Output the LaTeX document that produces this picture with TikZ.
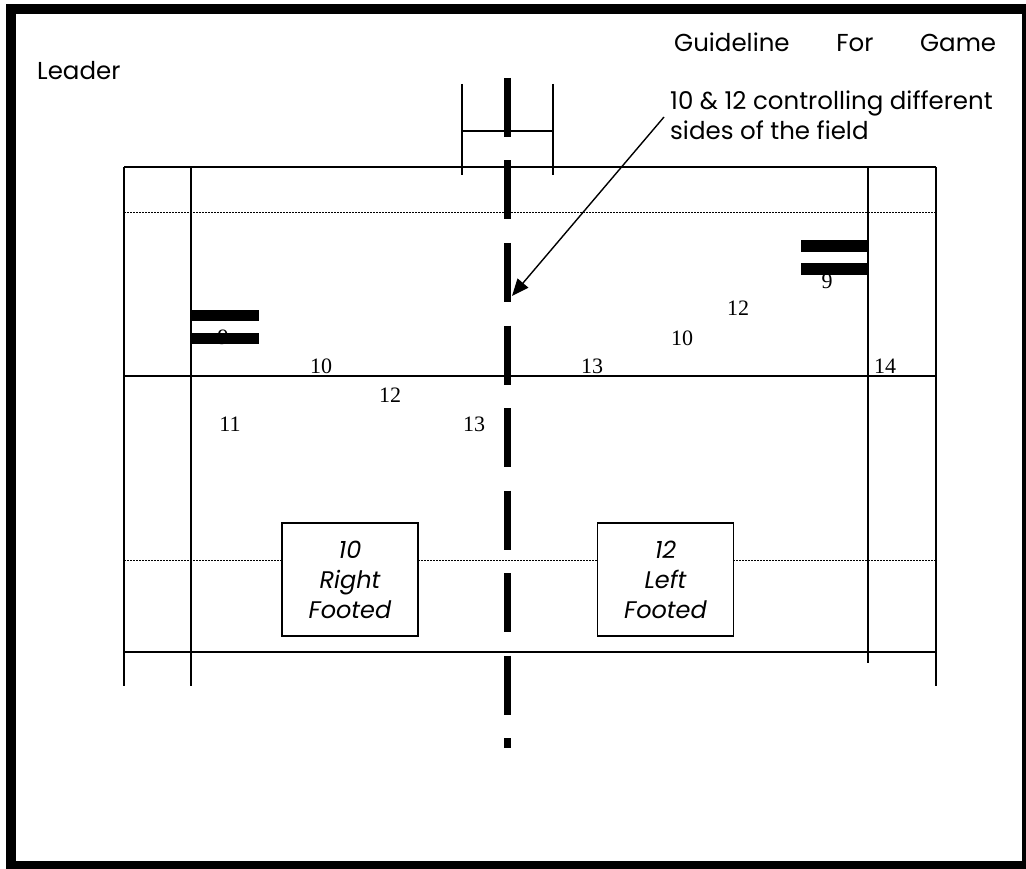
\documentclass[tikz,border=0pt]{standalone}
\usepackage{fontspec}
\setmainfont{Liberation Serif}
\newfontfamily\gothic{Poppins}
\usetikzlibrary{arrows.meta}
\begin{document}
\begin{tikzpicture}[x=1pt,y=-1pt,
  field/.style={line width=1.6pt},
  dotline/.style={line width=1pt, dash pattern=on 1.5pt off 1.5pt},
  num/.style={font=\fontsize{22}{22}\selectfont, inner sep=0pt, anchor=base},
  lbl/.style={font=\gothic\fontsize{24.5}{30}\selectfont, inner sep=0pt, anchor=base west},
  footbox/.style={draw, fill=white, line width=1.5pt, minimum width=136pt, minimum height=113pt,
    align=center, font=\gothic\itshape\fontsize{24}{30}\selectfont, inner sep=0pt},
  goalbar/.style={fill=black},
  centreline/.style={line width=7pt, dash pattern=on 59pt off 23.5pt},
  pointer/.style={line width=1.4pt, -{Triangle[length=17pt,width=14pt]}},
]
\useasboundingbox (0,0) rectangle (1026,869);
% outer frame
\draw[line width=10pt] (11,9) rectangle (1027,866);

% header texts
\node[lbl] (title) at (674,52) {\hbox to 322pt{Guideline\hfill For\hfill Game}};
\node[lbl] (leader) at (37,80) {Leader};
\node[lbl, align=left] (note) at (670,140) {10 \& 12 controlling different\\sides of the field};

% field lines
\draw[field] (124,167) -- (936,167);
\draw[field] (124,376) -- (936,376);
\draw[field] (124,652) -- (936,652);
\draw[field] (124,167) -- (124,686);
\draw[field] (191,167) -- (191,686);
\draw[field] (868,167) -- (868,663);
\draw[field] (936,167) -- (936,686);
\draw[dotline] (124,213) -- (936,213);
\draw[dotline] (124,560) -- (936,560);

% small goal at top
\draw[field] (462,84) -- (462,175);
\draw[field] (553,84) -- (553,175);
\draw[field] (462,131) -- (553,131);

% centre dashed line
\draw[centreline] (507.5,78) -- (507.5,748);

% numbers
\node[num] (n9a) at (223,344.5) {9};
\node[num] (n9b) at (827,288) {9};
\fill[goalbar] (191,310) rectangle (259,321);
\fill[goalbar] (191,333) rectangle (259,344);
\fill[goalbar] (801,240) rectangle (868,252);
\fill[goalbar] (801,263) rectangle (868,275);

\node[num] (n10a) at (321,373) {10};
\node[num] (n12a) at (390,402) {12};
\node[num] (n11) at (230,431) {11};
\node[num] (n13a) at (474,431) {13};
\node[num] (n13b) at (592,373) {13};
\node[num] (n10b) at (682,345) {10};
\node[num] (n12b) at (738,316) {12};
\node[num] (n14) at (885,373) {14};

% boxes
\node[footbox] (rf) at (350,579.5) {10\\Right\\Footed};
\node[footbox] (lf) at (665.5,579.5) {12\\Left\\Footed};

% arrow
\coordinate (from) at (664,117);
\coordinate (tip) at (512,296);
\draw[pointer] (from) -- (tip);
\end{tikzpicture}
\end{document}
